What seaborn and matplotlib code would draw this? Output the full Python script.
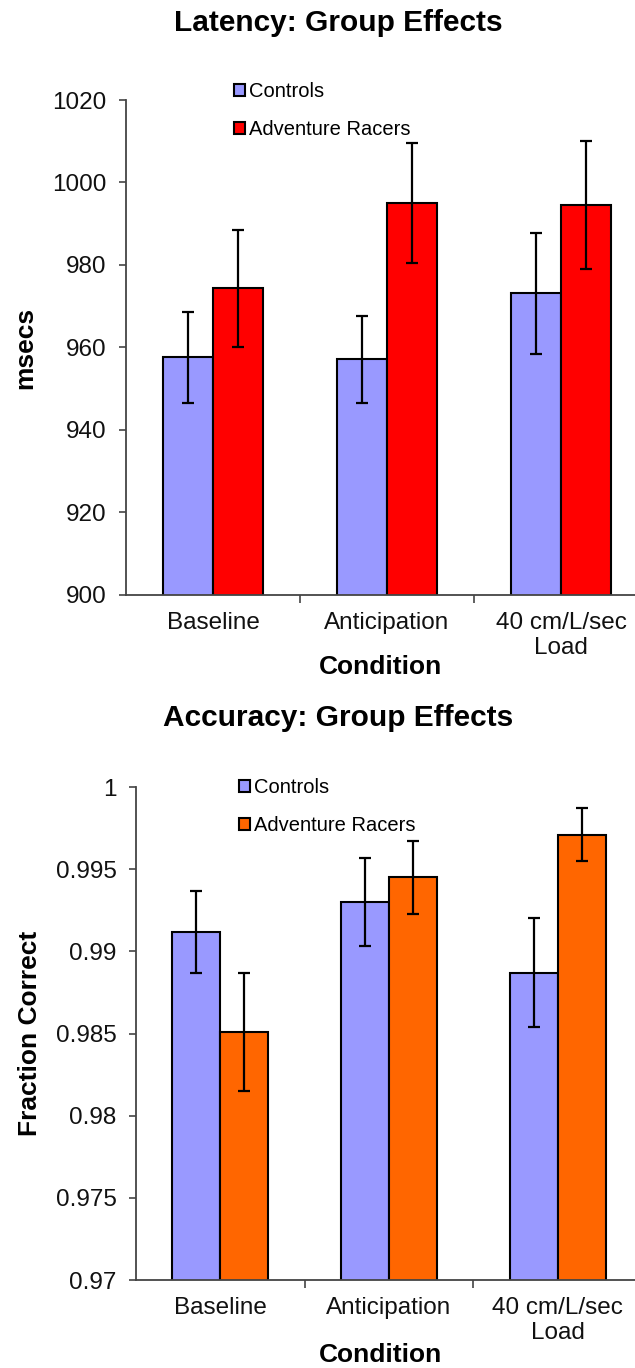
import pandas as pd
import matplotlib
matplotlib.use("Agg")
import matplotlib.pyplot as plt
from matplotlib.ticker import FixedLocator
import seaborn as sns

# Data
conditions = ["Baseline", "Anticipation", "40 cm/L/sec\nLoad"]
groups = ["Controls", "Adventure Racers"]

latency_controls = [957.6, 957.1, 973.1]
latency_racers = [974.3, 995.1, 994.6]
latency_controls_err = [11.0, 10.6, 14.6]
latency_racers_err = [14.3, 14.5, 15.5]
latency_ticks = [900, 920, 940, 960, 980, 1000, 1020]

accuracy_controls = [0.9912, 0.9930, 0.9887]
accuracy_racers = [0.9851, 0.9945, 0.9971]
accuracy_controls_err = [0.0025, 0.0027, 0.0033]
accuracy_racers_err = [0.0036, 0.0022, 0.0016]
accuracy_ticks = [0.97, 0.975, 0.98, 0.985, 0.99, 0.995, 1.0]
accuracy_tick_labels = ["0.97", "0.975", "0.98", "0.985", "0.99", "0.995", "1"]

sns.set_style("white")
plt.rcParams["font.family"] = ["Liberation Sans", "DejaVu Sans"]
plt.rcParams["text.color"] = "black"
plt.rcParams["axes.labelcolor"] = "black"

fig = plt.figure(figsize=(6.35, 13.68), dpi=100)
ax_top = fig.add_axes([0.1984, 0.5651, 0.822, 0.3618])
ax_bot = fig.add_axes([0.2142, 0.0643, 0.797, 0.3604])


def build_frame(controls, racers):
    rows = []
    for cond, c, r in zip(conditions, controls, racers):
        rows.append({"Condition": cond, "Group": groups[0], "Value": c})
        rows.append({"Condition": cond, "Group": groups[1], "Value": r})
    return pd.DataFrame(rows)


def draw_panel(ax, controls, racers, errs, racer_color, title, ylabel,
               ticks, tick_labels, title_xy, legend_xy, xlabel_xy, ylabel_x):
    df = build_frame(controls, racers)
    sns.barplot(data=df, x="Condition", y="Value", hue="Group",
                order=conditions, hue_order=groups,
                palette=["#9999FF", racer_color], width=0.57, gap=0,
                errorbar=None, edgecolor="black", linewidth=1.5,
                saturation=1, legend=False, ax=ax)

    # error bars on top of each bar
    for container, err in zip(ax.containers, errs):
        xs = [p.get_x() + p.get_width() / 2 for p in container.patches]
        ys = [p.get_height() for p in container.patches]
        ax.errorbar(xs, ys, yerr=err, fmt="none", ecolor="black",
                    elinewidth=1.6, capsize=4, capthick=1.6, zorder=5)

    ax.set_xlim(-0.5, 2.5)
    ax.set_ylim(ticks[0], ticks[-1])
    ax.set_yticks(ticks)
    ax.set_yticklabels(tick_labels)

    # separators between categories instead of centred ticks
    ax.xaxis.set_minor_locator(FixedLocator([0.5, 1.5, 2.5]))
    ax.tick_params(axis="x", which="major", length=0, pad=12,
                   labelsize=17.5, labelcolor="#111111")
    ax.tick_params(axis="x", which="minor", length=6, width=1.2,
                   direction="out", color="#444444", bottom=True)
    ax.tick_params(axis="y", length=5, width=1.2, direction="out",
                   color="#444444", pad=9, labelsize=17.5,
                   labelcolor="#111111", left=True)

    for side in ["top", "right"]:
        ax.spines[side].set_visible(False)
    for side in ["left", "bottom"]:
        ax.spines[side].set_color("#444444")
        ax.spines[side].set_linewidth(1.3)

    ax.set_xlabel("Condition", fontsize=19, fontweight="bold")
    ax.xaxis.set_label_coords(*xlabel_xy)
    ax.xaxis.label.set_va("center")
    ax.set_ylabel(ylabel, fontsize=19, fontweight="bold")
    ax.yaxis.set_label_coords(ylabel_x, 0.5)

    ax.text(title_xy[0], title_xy[1], title, transform=ax.transAxes,
            ha="center", va="center", fontsize=21.5, fontweight="bold",
            color="black")

    ax.legend(ax.containers, groups, loc="upper left",
              bbox_to_anchor=legend_xy, bbox_transform=fig.transFigure,
              frameon=False, fontsize=14.5, borderpad=0, handlelength=0.55,
              handleheight=0.55, handletextpad=0.2, labelspacing=0.95)


draw_panel(ax_top, latency_controls, latency_racers,
           [latency_controls_err, latency_racers_err], "#FF0000",
           "Latency: Group Effects", "msecs",
           latency_ticks, [str(t) for t in latency_ticks],
           title_xy=(0.406, 1.156), legend_xy=(0.352, 0.9475),
           xlabel_xy=(0.487, -0.145), ylabel_x=-0.17)

draw_panel(ax_bot, accuracy_controls, accuracy_racers,
           [accuracy_controls_err, accuracy_racers_err], "#FF6600",
           "Accuracy: Group Effects", "Fraction Correct",
           accuracy_ticks, accuracy_tick_labels,
           title_xy=(0.4, 1.139), legend_xy=(0.36, 0.4385),
           xlabel_xy=(0.484, -0.152), ylabel_x=-0.185)

fig.savefig("out.png", dpi=100)
